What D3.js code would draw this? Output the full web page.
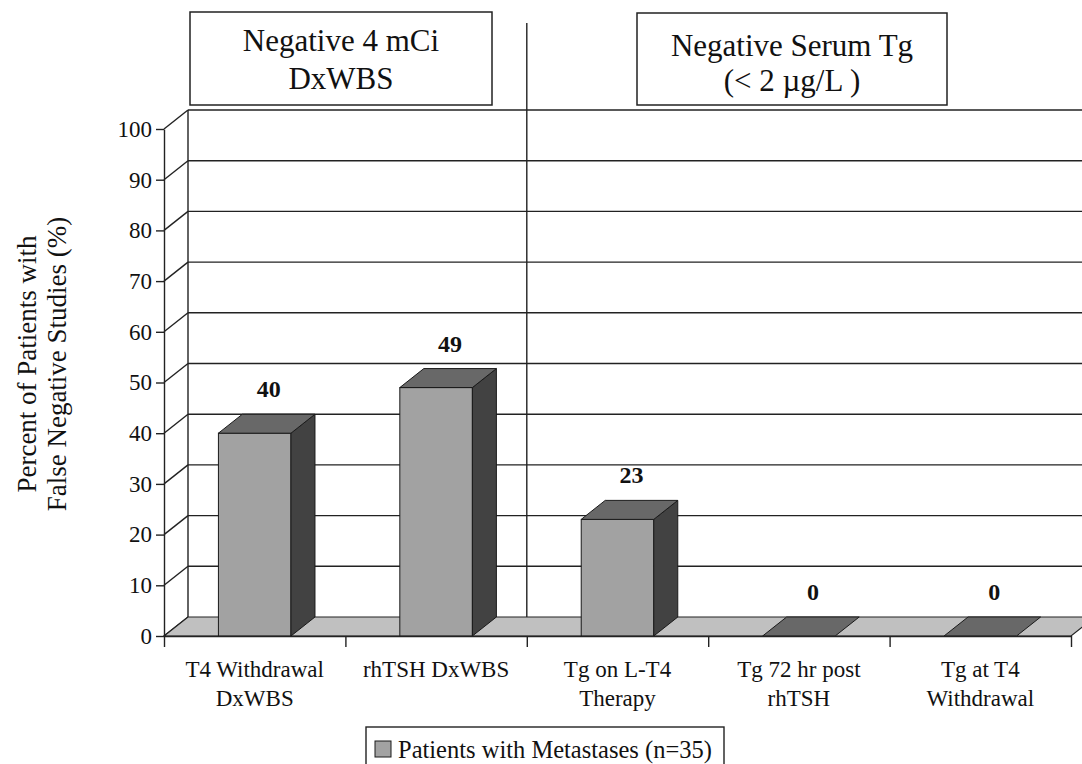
<!DOCTYPE html>
<html>
<head>
<meta charset="utf-8">
<script src="https://cdn.jsdelivr.net/npm/d3@7"></script>
<style>
  body { margin: 0; background: #fff; }
  svg { display: block; font-family: "Liberation Serif", "Times New Roman", serif; }
</style>
</head>
<body>
<svg id="chart" width="1082" height="764"></svg>
<script>
// data
let categories = ['T4 Withdrawal DxWBS', 'rhTSH DxWBS', 'Tg on L-T4 Therapy', 'Tg 72 hr post rhTSH', 'Tg at T4 Withdrawal'];
let categoryLines = [['T4 Withdrawal', 'DxWBS'], ['rhTSH DxWBS'], ['Tg on L-T4', 'Therapy'], ['Tg 72 hr post', 'rhTSH'], ['Tg at T4', 'Withdrawal']];
let values = [40, 49, 23, 0, 0];
let yTicks = [0, 10, 20, 30, 40, 50, 60, 70, 80, 90, 100];
let groupTitles = [['Negative 4 mCi', 'DxWBS'], ['Negative Serum Tg', '(< 2 \u00b5g/L )']];
let seriesName = 'Patients with Metastases (n=35)';
let yTitle = ['Percent of Patients with', 'False Negative Studies (%)'];

// 3d depth offset
let dx = 24, dy = -19;
let plotLeft = 164, plotRight = 1071, plotBottom = 636, plotTop = 129;

let svg = d3.select('#chart');

let x = d3.scaleBand()
  .domain(categories)
  .range([plotLeft, plotRight])
  .paddingInner(0.6)
  .paddingOuter(0.3);

let xEdge = d3.scaleLinear().domain([0, categories.length]).range([plotLeft, plotRight]);

let y = d3.scaleLinear().domain([0, 100]).range([plotBottom, plotTop]);

// back wall gridlines
svg.append('g')
  .selectAll('line.grid')
  .data(yTicks.filter(d => d > 0))
  .enter()
  .append('line')
  .attr('class', 'grid')
  .attr('x1', plotLeft + dx)
  .attr('x2', 1082)
  .attr('y1', d => y(d) + dy)
  .attr('y2', d => y(d) + dy)
  .style('stroke', '#222')
  .style('stroke-width', '1.4px');

// left side wall
svg.append('g')
  .selectAll('line.side')
  .data(yTicks)
  .enter()
  .append('line')
  .attr('class', 'side')
  .attr('x1', plotLeft)
  .attr('x2', plotLeft + dx)
  .attr('y1', d => y(d))
  .attr('y2', d => y(d) + dy)
  .style('stroke', '#222')
  .style('stroke-width', '1.4px');

svg.append('line')
  .attr('x1', plotLeft + dx).attr('x2', plotLeft + dx)
  .attr('y1', y(100) + dy).attr('y2', y(0) + dy)
  .style('stroke', '#222')
  .style('stroke-width', '1.4px');

// floor
svg.append('path')
  .attr('d', `M${plotLeft},${y(0)}L${plotRight},${y(0)}L${plotRight + dx},${y(0) + dy}L${plotLeft + dx},${y(0) + dy}Z`)
  .style('fill', '#c0c0c0')
  .style('stroke', '#222')
  .style('stroke-width', '1.2px');

// divider between the two groups
svg.append('line')
  .attr('x1', xEdge(2)).attr('x2', xEdge(2))
  .attr('y1', 23).attr('y2', y(0) + dy)
  .style('stroke', '#222')
  .style('stroke-width', '1.4px');

// bars
let bars = svg.append('g')
  .selectAll('g.bar')
  .data(values)
  .enter()
  .append('g')
  .attr('class', 'bar');

bars.filter(d => d > 0)
  .append('rect')
  .attr('x', (d, i) => x(categories[i]))
  .attr('y', d => y(d))
  .attr('width', x.bandwidth())
  .attr('height', d => y(0) - y(d))
  .style('fill', '#a2a2a2')
  .style('stroke', '#1a1a1a')
  .style('stroke-width', '1px');

bars.filter(d => d > 0)
  .append('path')
  .attr('d', (d, i) => {
    let x1 = x(categories[i]) + x.bandwidth();
    return `M${x1},${y(d)}L${x1 + dx},${y(d) + dy}L${x1 + dx},${y(0) + dy}L${x1},${y(0)}Z`;
  })
  .style('fill', '#424242')
  .style('stroke', '#1a1a1a')
  .style('stroke-width', '1px');

bars.append('path')
  .attr('d', (d, i) => {
    let x0 = x(categories[i]), x1 = x0 + x.bandwidth();
    return `M${x0},${y(d)}L${x1},${y(d)}L${x1 + dx},${y(d) + dy}L${x0 + dx},${y(d) + dy}Z`;
  })
  .style('fill', '#686868')
  .style('stroke', '#1a1a1a')
  .style('stroke-width', '1px');

bars.append('text')
  .attr('x', (d, i) => x(categories[i]) + x.bandwidth() / 2 + dx / 2 + 2)
  .attr('y', d => y(d) + dy - 17)
  .attr('text-anchor', 'middle')
  .style('font-size', '24px')
  .style('font-weight', 'bold')
  .style('fill', '#111')
  .text(d => d);

// x axis: ticks on the category edges
let xAxis = svg.append('g')
  .attr('transform', `translate(0,${y(0)})`)
  .call(d3.axisBottom(xEdge).ticks(categories.length).tickFormat('').tickSize(11).tickSizeOuter(0));
xAxis.selectAll('path, line').style('stroke', '#222').style('stroke-width', '1.4px');

svg.append('g')
  .selectAll('text.cat')
  .data(categoryLines)
  .enter()
  .append('text')
  .attr('class', 'cat')
  .attr('text-anchor', 'middle')
  .style('font-size', '23px')
  .style('fill', '#111')
  .each(function(lines, i) {
    d3.select(this).selectAll('tspan')
      .data(lines)
      .enter()
      .append('tspan')
      .attr('x', x(categories[i]) + x.bandwidth() / 2)
      .attr('y', (l, j) => 677 + j * 28.5)
      .text(l => l);
  });

// y axis
let yAxis = svg.append('g')
  .attr('transform', `translate(${plotLeft},0)`)
  .call(d3.axisLeft(y).tickValues(yTicks).tickSize(8).tickSizeOuter(0).tickPadding(4));
yAxis.selectAll('path, line').style('stroke', '#222').style('stroke-width', '1.4px');
yAxis.selectAll('text')
  .style('font-size', '23px')
  .style('font-family', '"Liberation Serif", "Times New Roman", serif')
  .style('fill', '#111');

// y title, two lines
yTitle.forEach((t, i) => {
  svg.append('text')
    .attr('transform', `translate(${36 + i * 30},364) rotate(-90)`)
    .attr('text-anchor', 'middle')
    .style('font-size', '27px')
    .style('fill', '#111')
    .text(t);
});

// group title boxes
let boxes = [
  {x0: 190, x1: 492, y0: 12, y1: 105, base: [51, 89]},
  {x0: 637, x1: 947, y0: 13, y1: 105, base: [56, 91]}
];

boxes.forEach((b, i) => {
  svg.append('rect')
    .attr('x', b.x0).attr('y', b.y0)
    .attr('width', b.x1 - b.x0).attr('height', b.y1 - b.y0)
    .style('fill', '#fff')
    .style('stroke', '#222')
    .style('stroke-width', '1.5px');
  groupTitles[i].forEach((t, j) => {
    svg.append('text')
      .attr('x', (b.x0 + b.x1) / 2)
      .attr('y', b.base[j])
      .attr('text-anchor', 'middle')
      .style('font-size', '31px')
      .style('fill', '#111')
      .text(t);
  });
});

// legend
svg.append('rect')
  .attr('x', 366).attr('y', 727)
  .attr('width', 358).attr('height', 50)
  .style('fill', '#fff')
  .style('stroke', '#222')
  .style('stroke-width', '1.4px');
svg.append('rect')
  .attr('x', 375).attr('y', 741)
  .attr('width', 16).attr('height', 16)
  .style('fill', '#a2a2a2')
  .style('stroke', '#1a1a1a')
  .style('stroke-width', '1px');
svg.append('text')
  .attr('x', 398).attr('y', 758)
  .style('font-size', '24.5px')
  .style('fill', '#111')
  .text(seriesName);
</script>
</body>
</html>
